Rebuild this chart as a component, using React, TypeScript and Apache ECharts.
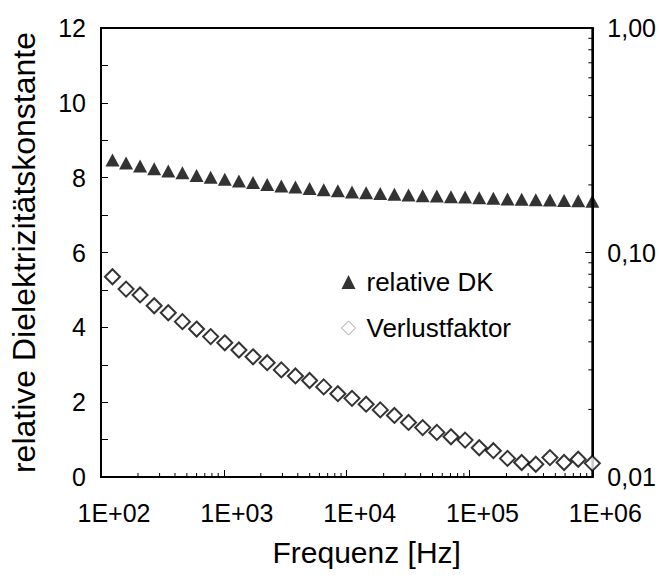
import React, { useEffect, useRef } from 'react';
import * as echarts from 'echarts';

// Frequencies [Hz]
const frequencies = [
  124, 160, 208, 271, 353, 460, 600, 781, 1018, 1327, 1729, 2254, 2938, 3827,
  4990, 6504, 8477, 11050, 14400, 18770, 24470, 31890, 41570, 54190, 70630,
  92070, 120000, 156400, 203900, 265800, 346500, 451600, 588700, 767300, 1000000,
];

// relative DK (left axis)
const relativeDK = [
  8.47, 8.39, 8.31, 8.24, 8.18, 8.13, 8.06, 8.01, 7.96, 7.91, 7.87, 7.82, 7.78,
  7.75, 7.71, 7.68, 7.65, 7.62, 7.6, 7.58, 7.56, 7.54, 7.52, 7.51, 7.49, 7.48,
  7.46, 7.45, 7.43, 7.42, 7.41, 7.4, 7.39, 7.38, 7.37,
];

// Verlustfaktor (right log axis)
const verlustfaktor = [
  0.078, 0.0687, 0.0647, 0.0579, 0.0539, 0.0492, 0.0456, 0.0422, 0.0396, 0.0368,
  0.0343, 0.0323, 0.03, 0.0282, 0.0269, 0.0252, 0.0235, 0.0224, 0.0211, 0.0199,
  0.0188, 0.0175, 0.0166, 0.0158, 0.0151, 0.0146, 0.0135, 0.0131, 0.0121, 0.0116,
  0.0114, 0.0122, 0.0116, 0.012, 0.0115,
];

const xDecades = [100, 1000, 10000, 100000];
const rightDecades = [0.01, 0.1];
const minorMultipliers = [2, 3, 4, 5, 6, 7, 8, 9];

const FONT = 'Liberation Sans, Arial, sans-serif';

export default function App() {
  const ref = useRef<HTMLDivElement>(null);

  useEffect(() => {
    const chart = echarts.init(ref.current!, null, { renderer: 'svg' });

    const xMinor: number[] = [];
    xDecades.forEach((d) => minorMultipliers.forEach((m) => xMinor.push(d * m)));
    const yMinor: number[] = [];
    rightDecades.forEach((d) =>
      minorMultipliers.forEach((m) => yMinor.push(Number((d * m).toFixed(4))))
    );

    chart.setOption({
      animation: false,
      grid: {
        left: 99,
        right: 66,
        top: 28,
        bottom: 104,
        show: true,
        borderColor: '#000',
        borderWidth: 2,
        backgroundColor: 'transparent',
      },
      legend: {
        orient: 'vertical',
        left: 336,
        top: 264,
        itemWidth: 14,
        itemHeight: 14,
        itemGap: 20,
        selectedMode: false,
        textStyle: { fontSize: 26, fontFamily: FONT, color: '#000', padding: [0, 0, 0, 6] },
        data: [
          { name: 'relative DK', icon: 'triangle', itemStyle: { color: '#000' } },
          {
            name: 'Verlustfaktor',
            icon: 'diamond',
            itemStyle: { color: '#fff', borderColor: '#888', borderWidth: 1 },
          },
        ],
      },
      xAxis: {
        type: 'log',
        logBase: 10,
        min: 100,
        max: 1000000,
        name: 'Frequenz [Hz]',
        nameLocation: 'middle',
        nameGap: 60,
        nameTextStyle: { fontSize: 30, fontFamily: FONT, color: '#000', padding: [0, 0, 0, 40] },
        axisLine: { lineStyle: { color: '#000', width: 2 } },
        axisTick: { inside: true, length: 7, lineStyle: { color: '#000', width: 1 } },
        splitLine: { show: false },
        axisLabel: {
          fontSize: 25,
          fontFamily: FONT,
          color: '#000',
          margin: 23,
          padding: [0, 0, 0, 26],
          formatter: (v: number) => {
            const e = Math.round(Math.log10(v));
            return '1E+' + String(e).padStart(2, '0');
          },
        },
      },
      yAxis: [
        {
          type: 'value',
          position: 'left',
          min: 0,
          max: 12,
          interval: 2,
          name: 'relative Dielektrizitätskonstante',
          nameLocation: 'middle',
          nameGap: 61,
          nameTextStyle: { fontSize: 32, fontFamily: FONT, color: '#000' },
          axisLine: { show: true, lineStyle: { color: '#000', width: 2 } },
          axisTick: { show: true, inside: true, length: 7, lineStyle: { color: '#000', width: 1 } },
          minorTick: { show: true, splitNumber: 2, length: 7, lineStyle: { color: '#000', width: 1 } },
          splitLine: { show: false },
          axisLabel: { fontSize: 25, fontFamily: FONT, color: '#000', margin: 15 },
        },
        {
          type: 'log',
          logBase: 10,
          position: 'right',
          min: 0.01,
          max: 1,
          axisLine: { show: true, lineStyle: { color: '#000', width: 2 } },
          axisTick: { show: true, inside: true, length: 7, lineStyle: { color: '#000', width: 1 } },
          splitLine: { show: false },
          axisLabel: {
            fontSize: 25,
            fontFamily: FONT,
            color: '#000',
            margin: 15,
            formatter: (v: number) => v.toFixed(2).replace('.', ','),
          },
        },
      ],
      series: [
        {
          type: 'custom',
          xAxisIndex: 0,
          yAxisIndex: 1,
          silent: true,
          z: 1,
          data: xMinor.map((v) => [v, 0.01]),
          renderItem: (_p: any, api: any) => {
            const p = api.coord([api.value(0), api.value(1)]);
            return {
              type: 'line',
              shape: { x1: p[0], y1: p[1], x2: p[0], y2: p[1] - 4 },
              style: { stroke: '#000', lineWidth: 1 },
            };
          },
        },
        {
          type: 'custom',
          xAxisIndex: 0,
          yAxisIndex: 1,
          silent: true,
          z: 1,
          data: yMinor.map((v) => [1000000, v]),
          renderItem: (_p: any, api: any) => {
            const p = api.coord([api.value(0), api.value(1)]);
            return {
              type: 'line',
              shape: { x1: p[0], y1: p[1], x2: p[0] - 4, y2: p[1] },
              style: { stroke: '#000', lineWidth: 1 },
            };
          },
        },
        {
          type: 'scatter',
          name: 'relative DK',
          xAxisIndex: 0,
          yAxisIndex: 0,
          symbol: 'triangle',
          symbolSize: [14, 13],
          itemStyle: { color: '#000' },
          z: 3,
          data: frequencies.map((f, i) => [f, relativeDK[i]]),
        },
        {
          type: 'scatter',
          name: 'Verlustfaktor',
          xAxisIndex: 0,
          yAxisIndex: 1,
          symbol: 'diamond',
          symbolSize: 15,
          itemStyle: { color: '#fff', borderColor: '#000', borderWidth: 2 },
          z: 3,
          data: frequencies.map((f, i) => [f, verlustfaktor[i]]),
        },
      ],
    });

    return () => chart.dispose();
  }, []);

  return (
    <div
      ref={ref}
      style={{ position: 'fixed', left: 0, top: 0, width: 659, height: 581, background: '#fff' }}
    />
  );
}
